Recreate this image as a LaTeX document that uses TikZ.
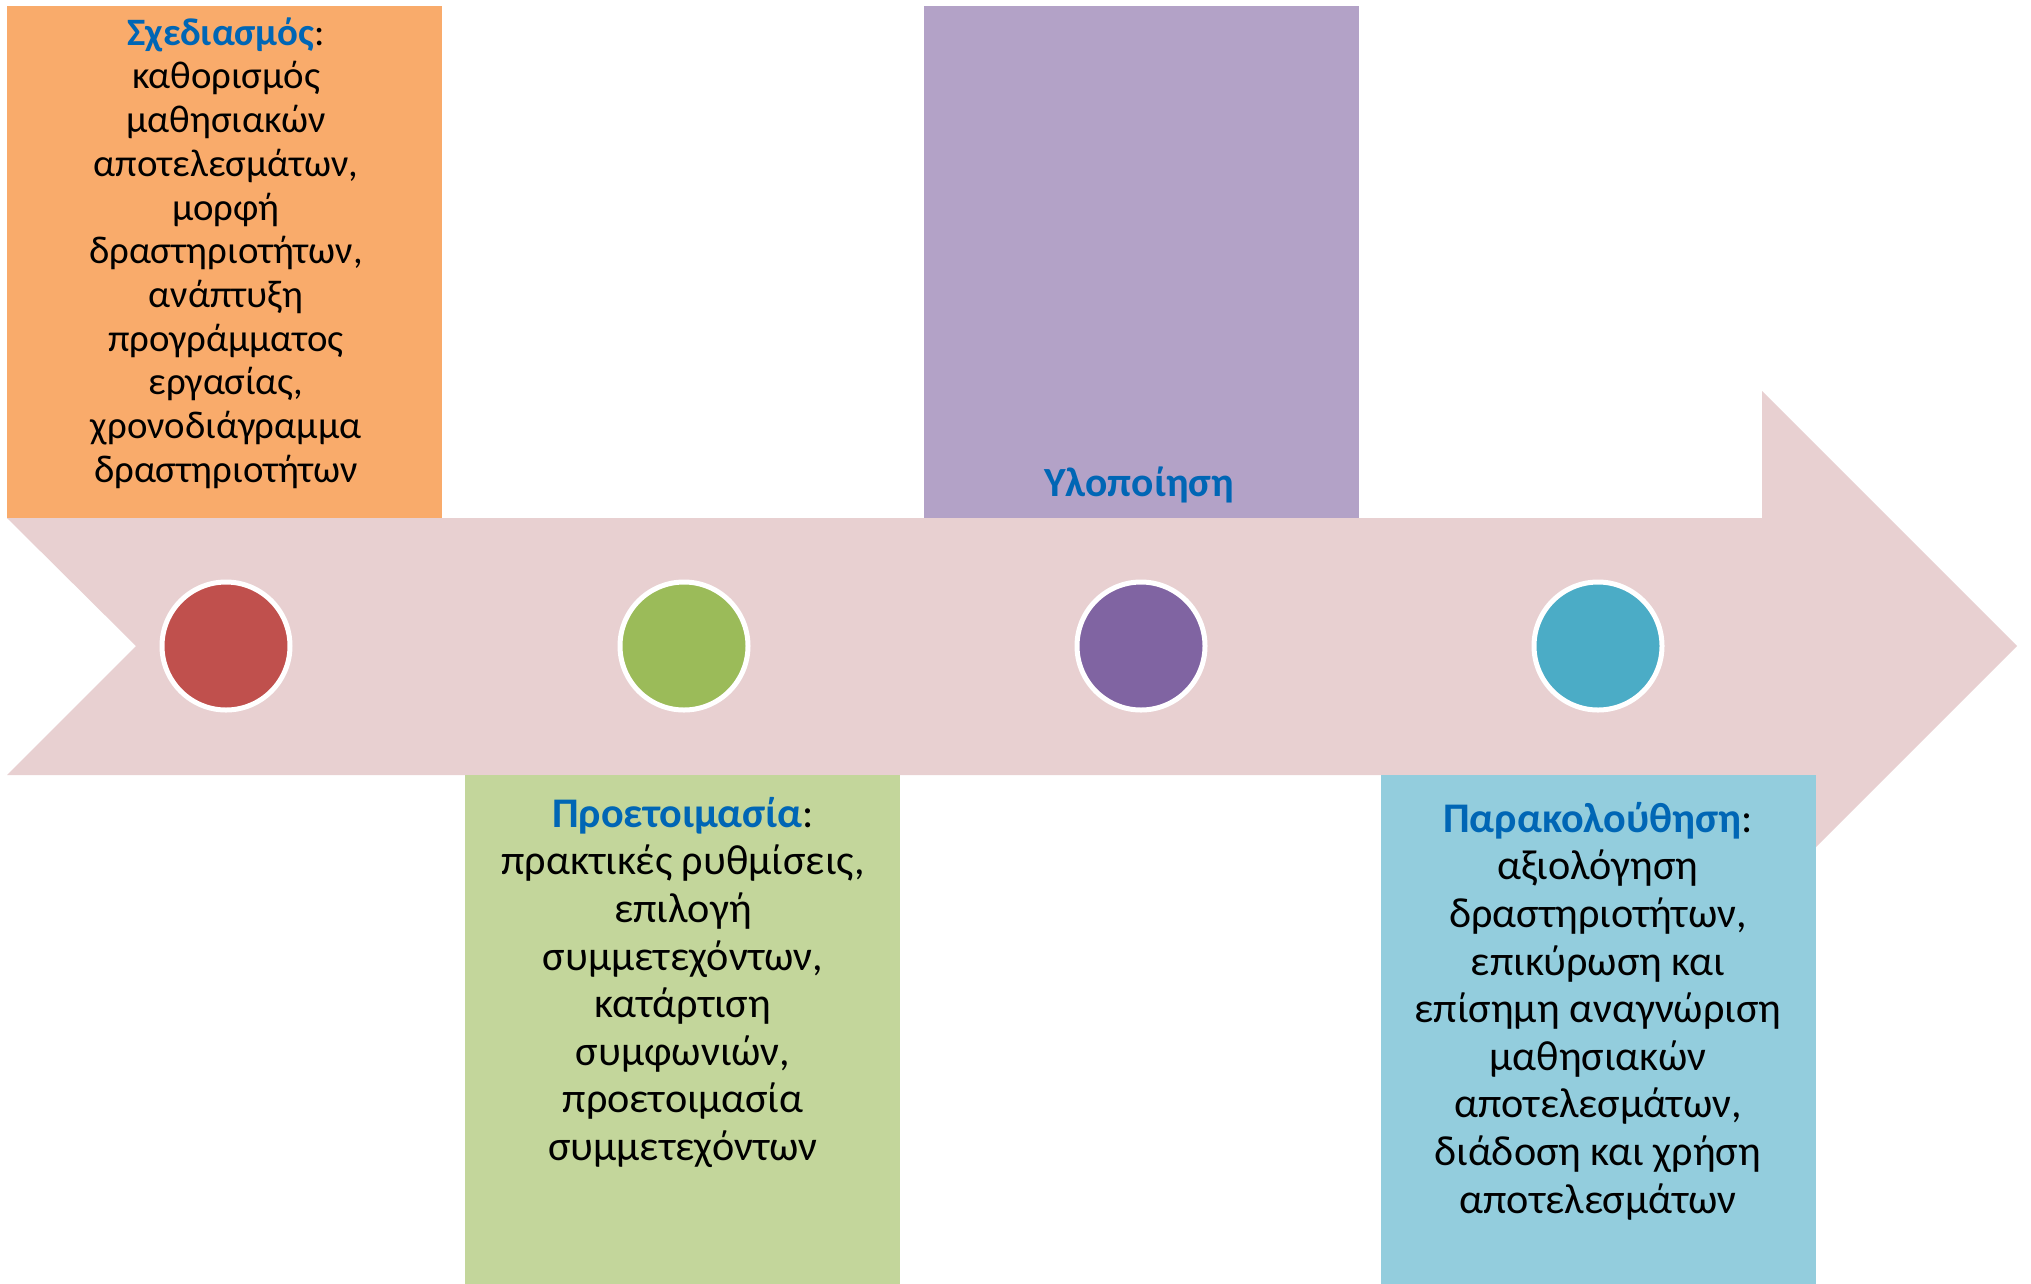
\documentclass[tikz,border=0pt]{standalone}
\usepackage{fontspec}
\setmainfont{Carlito}
\definecolor{bandpink}{HTML}{E8D0D1}
\definecolor{boxorange}{HTML}{F9AB6B}
\definecolor{boxgreen}{HTML}{C3D69B}
\definecolor{boxpurple}{HTML}{B3A2C7}
\definecolor{boxblue}{HTML}{93CDDD}
\definecolor{dotred}{HTML}{C0504D}
\definecolor{dotgreen}{HTML}{9BBB59}
\definecolor{dotpurple}{HTML}{8064A2}
\definecolor{dotblue}{HTML}{4BACC6}
\definecolor{titleblue}{HTML}{0066B5}
\newcommand{\ttl}[1]{{\bfseries\color{titleblue}#1}}
\begin{document}
\begin{tikzpicture}[x=1pt,y=-1pt,
  panel/.style={rectangle,draw=none,inner sep=0,outer sep=0,minimum width=435pt,anchor=north west},
  dot/.style={circle,draw=white,line width=5pt,minimum size=128pt,inner sep=0},
  smalltxt/.style={anchor=north,inner sep=0,align=center,font=\fontsize{38.8}{43.7}\selectfont},
  bigtxt/.style={anchor=north,inner sep=0,align=center,font=\fontsize{42.2}{47.6}\selectfont}]
\fill[white] (0,0) rectangle (2031,1283);
\useasboundingbox (0,0) rectangle (2031,1283);
% band arrow
\fill[bandpink] (7,518) -- (1762,518) -- (1762,391) -- (2017,646) -- (1762,901) -- (1762,775) -- (7,775) -- (136,646) -- cycle;
% panels
\node[panel,fill=boxorange,minimum height=512pt] (plan) at (7,6) {};
\node[panel,fill=boxpurple,minimum height=512pt] (impl) at (924,6) {};
\node[panel,fill=boxgreen,minimum height=509pt] (prep) at (465,775) {};
\node[panel,fill=boxblue,minimum height=509pt] (moni) at (1381,775) {};
% dots
\node[dot,fill=dotred] (d1) at (226,646) {};
\node[dot,fill=dotgreen] (d2) at (684,646) {};
\node[dot,fill=dotpurple] (d3) at (1141,646) {};
\node[dot,fill=dotblue] (d4) at (1598,646) {};
% texts
\node[smalltxt] (tplan) at (226,13) {\rule{0pt}{32pt}\ttl{Σχεδιασμός}:\\καθορισμός\\μαθησιακών\\αποτελεσμάτων,\\μορφή\\δραστηριοτήτων,\\ανάπτυξη\\προγράμματος\\εργασίας,\\χρονοδιάγραμμα\\δραστηριοτήτων};
\node[anchor=base,inner sep=0,font=\fontsize{41.5}{47.6}\selectfont] (timpl) at (1139,496) {\ttl{Υλοποίηση}};
\node[bigtxt] (tprep) at (683,792) {\rule{0pt}{35pt}\ttl{Προετοιμασία}:\\πρακτικές ρυθμίσεις,\\επιλογή\\συμμετεχόντων,\\κατάρτιση\\συμφωνιών,\\προετοιμασία\\συμμετεχόντων};
\node[bigtxt] (tmoni) at (1598,797) {\rule{0pt}{35pt}\ttl{Παρακολούθηση}:\\αξιολόγηση\\δραστηριοτήτων,\\επικύρωση και\\επίσημη αναγνώριση\\μαθησιακών\\αποτελεσμάτων,\\διάδοση και χρήση\\αποτελεσμάτων};
\end{tikzpicture}
\end{document}
